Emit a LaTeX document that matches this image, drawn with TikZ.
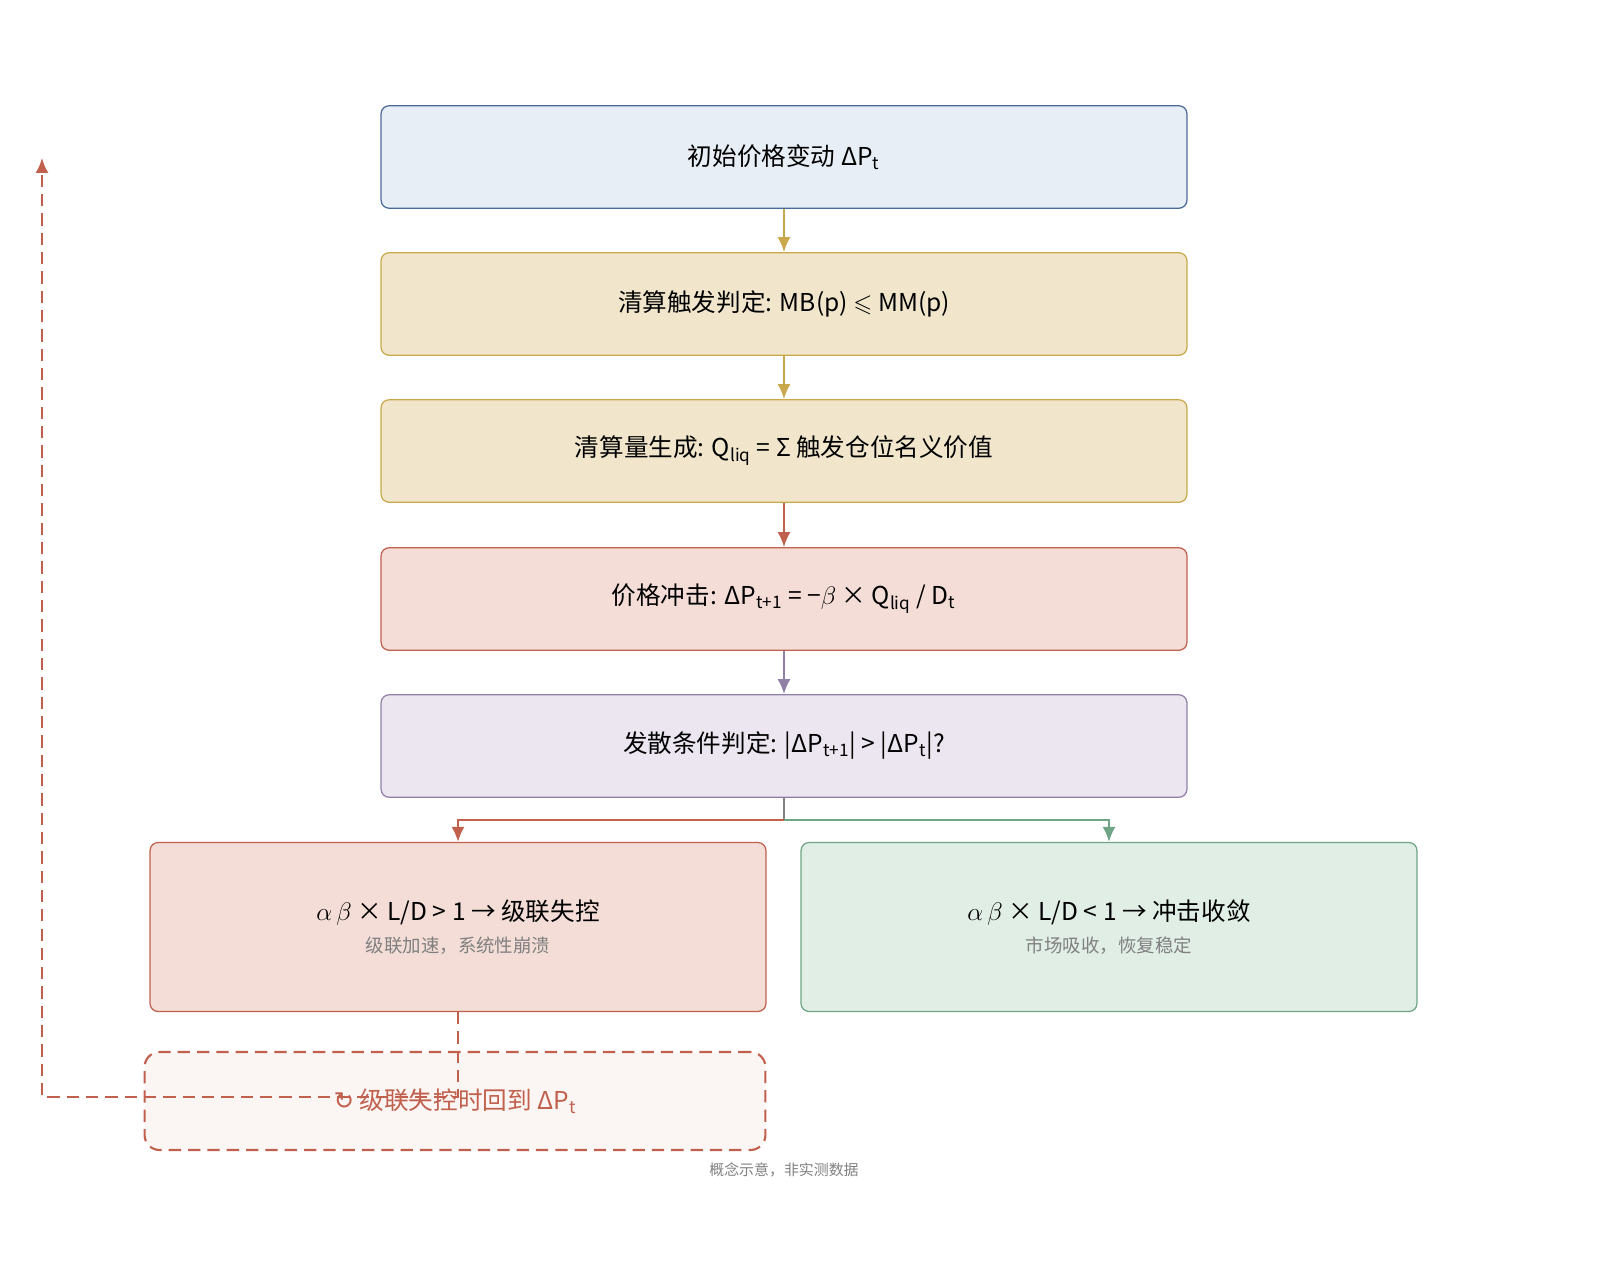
\documentclass[tikz,border=0pt]{standalone}
\usepackage{fontspec}
\usepackage{amssymb}
\setmainfont{Noto Sans CJK SC}
\newfontfamily\symfont{DejaVu Sans}
\usetikzlibrary{positioning,arrows.meta}
\definecolor{bluefill}{HTML}{E8EEF6}\definecolor{blueline}{HTML}{4A6A9A}
\definecolor{yelfill}{HTML}{F1E6CC}\definecolor{yelline}{HTML}{C9A84B}
\definecolor{redfill}{HTML}{F3DDD6}\definecolor{redline}{HTML}{C0604D}
\definecolor{purfill}{HTML}{ECE6F0}\definecolor{purline}{HTML}{9080A8}
\definecolor{grnfill}{HTML}{E0EEE6}\definecolor{grnline}{HTML}{6FA585}
\definecolor{loopfill}{HTML}{FBF6F4}
\tikzset{
  stage/.style={rectangle,draw,rounded corners=0.16cm,minimum width=16.12cm,minimum height=2.05cm,font=\fontsize{14}{17}\selectfont,line width=0.7pt},
  outcome/.style={rectangle,draw,rounded corners=0.16cm,minimum width=12.32cm,minimum height=3.38cm,align=center,line width=0.7pt},
  flow/.style={-{Latex[length=3mm,width=2.6mm]},line width=1.2pt},
  longdash/.style={dash pattern=on 7pt off 4pt}
}
\newcommand{\sbs}[1]{\textsubscript{#1}}
\begin{document}
\begin{tikzpicture}[x=0.02cm,y=-0.02cm]
\useasboundingbox (0,0) rectangle (1600,1261);
\node (init) [stage,fill=bluefill,draw=blueline] at (784,157) {初始价格变动 ΔP\sbs{t}};
\node (trig) [stage,fill=yelfill,draw=yelline] at (784,304) {清算触发判定: MB(p) $\leqslant$ MM(p)};
\node (qliq) [stage,fill=yelfill,draw=yelline] at (784,451) {清算量生成: Q\sbs{liq} = Σ 触发仓位名义价值};
\node (shock) [stage,fill=redfill,draw=redline] at (784,599) {价格冲击: ΔP\sbs{t+1} = −$\beta$ × Q\sbs{liq} / D\sbs{t}};
\node (diverge) [stage,fill=purfill,draw=purline] at (784,746) {发散条件判定: |ΔP\sbs{t+1}| > |ΔP\sbs{t}|?};
\node (cascade) [outcome,fill=redfill,draw=redline] at (458,927) {{\fontsize{14}{17}\selectfont $\alpha\,\beta$ × L/D > 1 → 级联失控}\\[6pt]{\fontsize{10.5}{12}\selectfont\color{gray} 级联加速，系统性崩溃}};
\node (converge) [outcome,fill=grnfill,draw=grnline] at (1109,927) {{\fontsize{14}{17}\selectfont $\alpha\,\beta$ × L/D < 1 → 冲击收敛}\\[6pt]{\fontsize{10.5}{12}\selectfont\color{gray} 市场吸收，恢复稳定}};
\node (loop) [rectangle,draw=redline,fill=loopfill,longdash,rounded corners=0.3cm,line width=1.2pt,minimum width=12.42cm,minimum height=1.96cm,text=redline,font=\fontsize{14}{17}\selectfont] at (455,1101) {{\symfont ↻} 级联失控时回到 ΔP\sbs{t}};
\node (note) [font=\fontsize{8.5}{10}\selectfont,text=gray] at (784,1170) {概念示意，非实测数据};
\coordinate (split) at (784,820);
\coordinate (turn) at (458,1097);
\coordinate (back) at (42,1097);
\coordinate (top) at (42,158);
\draw [flow,yelline] (init) -- (trig);
\draw [flow,yelline] (trig) -- (qliq);
\draw [flow,redline] (qliq) -- (shock);
\draw [flow,purline] (shock) -- (diverge);
\draw [line width=1.2pt,gray] (diverge) -- (split);
\draw [flow,redline] (split) -| (cascade);
\draw [flow,grnline] (split) -| (converge);
\draw [flow,redline,longdash] (cascade) -- (turn) -- (back) -- (top);
\end{tikzpicture}
\end{document}
